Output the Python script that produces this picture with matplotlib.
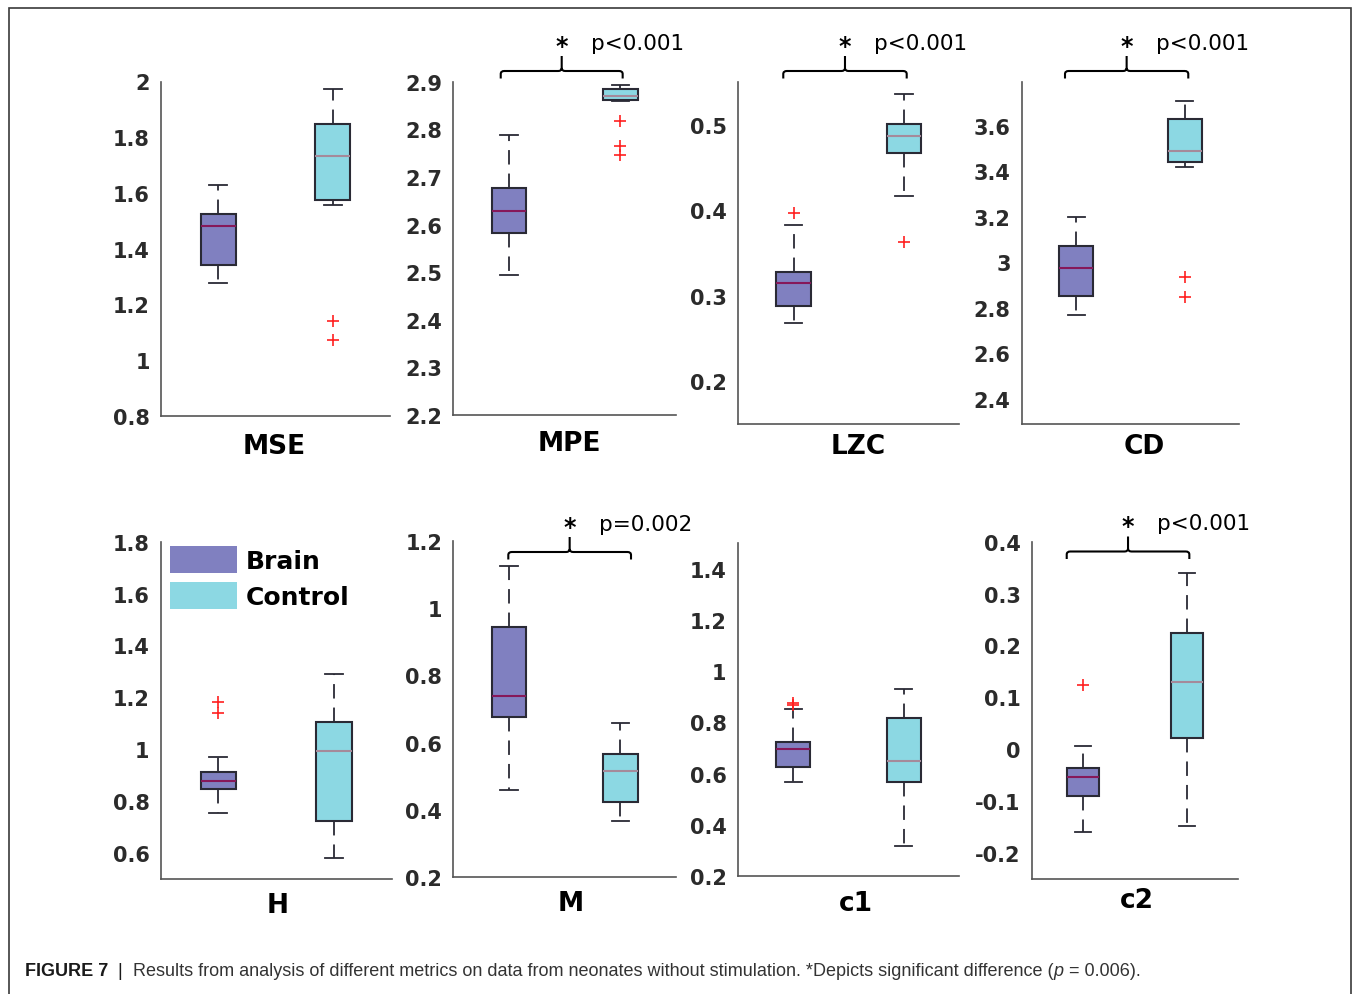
import matplotlib
matplotlib.use("Agg")
import matplotlib.pyplot as plt
from matplotlib.patches import Patch, Rectangle, PathPatch
from matplotlib.path import Path
from matplotlib.transforms import blended_transform_factory, offset_copy

# ---------------- data ----------------
metrics = ["MSE", "MPE", "LZC", "CD", "H", "M", "c1", "c2"]

brain_whislo = [1.276, 2.493, 0.268, 2.769, 0.755, 0.459, 0.568, -0.160]
brain_q1     = [1.341, 2.582, 0.2885, 2.852, 0.847, 0.677, 0.626, -0.090]
brain_med    = [1.482, 2.628, 0.3146, 2.975, 0.879, 0.739, 0.697, -0.054]
brain_q3     = [1.526, 2.677, 0.3275, 3.072, 0.911, 0.944, 0.725, -0.0365]
brain_whishi = [1.627, 2.789, 0.383, 3.200, 0.971, 1.127, 0.853, 0.0065]
brain_fliers = [[], [], [0.397], [], [1.184, 1.139], [], [0.874, 0.869], [0.123]]

control_whislo = [1.556, 2.859, 0.417, 3.416, 0.582, 0.365, 0.320, -0.147]
control_q1     = [1.576, 2.862, 0.467, 3.439, 0.723, 0.422, 0.568, 0.021]
control_med    = [1.732, 2.871, 0.487, 3.487, 0.994, 0.514, 0.650, 0.130]
control_q3     = [1.846, 2.885, 0.5007, 3.629, 1.106, 0.566, 0.816, 0.224]
control_whishi = [1.972, 2.894, 0.536, 3.710, 1.292, 0.658, 0.930, 0.339]
control_fliers = [[1.142, 1.072], [2.817, 2.766, 2.747], [0.363], [2.937, 2.847],
                  [], [], [], []]

y_limits = [(0.8, 2.0), (2.2, 2.9), (0.15, 0.55), (2.29, 3.79),
            (0.5, 1.8), (0.2, 1.2), (0.2, 1.5), (-0.25, 0.4)]
y_ticks = [[0.8, 1, 1.2, 1.4, 1.6, 1.8, 2],
           [2.2, 2.3, 2.4, 2.5, 2.6, 2.7, 2.8, 2.9],
           [0.2, 0.3, 0.4, 0.5],
           [2.4, 2.6, 2.8, 3, 3.2, 3.4, 3.6],
           [0.6, 0.8, 1, 1.2, 1.4, 1.6, 1.8],
           [0.2, 0.4, 0.6, 0.8, 1, 1.2],
           [0.2, 0.4, 0.6, 0.8, 1, 1.2, 1.4],
           [-0.2, -0.1, 0, 0.1, 0.2, 0.3, 0.4]]

p_labels = [None, "p<0.001", "p<0.001", "p<0.001", None, "p=0.002", None, "p<0.001"]
group_names = ["Brain", "Control"]

# ---------------- style ----------------
W, H = 1354, 995
DPI = 100
brain_fill = "#8080C0"
control_fill = "#8CD8E3"
brain_median = "#86185A"
control_median = "#A58A9A"
edge = "#2A2A35"
tick_color = "#2B2B2B"
spine_color = "#555555"

# axes rectangles in pixels: left, top, right, bottom
ax_px = [(161, 82.5, 390, 417), (453.3, 82.7, 676, 416),
         (738.3, 83.3, 959.3, 425), (1021.7, 83.3, 1239.3, 425),
         (160.7, 542.7, 391.7, 880), (453.3, 542.3, 676, 877.7),
         (737.7, 544, 959.3, 877.3), (1031.7, 542.7, 1238.3, 880)]
title_x_px = [274, 569, 858, 1144.5, 278, 571, 856, 1136.5]
title_y_px = [447, 444, 447, 447, 906, 904, 904, 901]
brace_x = [None, (0.926, 2.021), (0.907, 2.024), (0.898, 2.031),
           None, (0.994, 2.096), None, (0.839, 2.026)]
brace_y_px = [None, 72, 72, 72, None, 553, None, 552.5]

fig = plt.figure(figsize=(W / DPI, H / DPI), dpi=DPI)
fig.patch.set_facecolor("white")

# figure frame (open at the bottom edge of the image)
fig.add_artist(Rectangle((9 / W, -0.02), (1351 - 9) / W, 1.02 - 9 / H,
                         transform=fig.transFigure, fill=False,
                         edgecolor="#3A3A3A", linewidth=1.2))

def fmt(v):
    return "%g" % v

for i, name in enumerate(metrics):
    l, t, r, b = ax_px[i]
    ax = fig.add_axes([l / W, 1 - b / H, (r - l) / W, (b - t) / H])
    stats = [
        dict(med=brain_med[i], q1=brain_q1[i], q3=brain_q3[i],
             whislo=brain_whislo[i], whishi=brain_whishi[i],
             fliers=brain_fliers[i], label=group_names[0]),
        dict(med=control_med[i], q1=control_q1[i], q3=control_q3[i],
             whislo=control_whislo[i], whishi=control_whishi[i],
             fliers=control_fliers[i], label=group_names[1]),
    ]
    bp = ax.bxp(stats, positions=[1, 2], widths=0.31, capwidths=0.155,
                patch_artist=True, showfliers=True,
                boxprops=dict(edgecolor=edge, linewidth=1.5),
                whiskerprops=dict(color=edge, linewidth=1.3,
                                  linestyle=(0, (8, 5))),
                capprops=dict(color=edge, linewidth=1.3),
                medianprops=dict(linewidth=1.5),
                flierprops=dict(marker="+", markeredgecolor="#FF2020",
                                markersize=8.5, markeredgewidth=1.2,
                                linestyle="none"))
    bp["boxes"][0].set_facecolor(brain_fill)
    bp["boxes"][1].set_facecolor(control_fill)
    bp["medians"][0].set_color(brain_median)
    bp["medians"][1].set_color(control_median)

    ax.set_xlim(0.5, 2.5)
    ax.set_ylim(*y_limits[i])
    ax.set_yticks(y_ticks[i])
    ax.set_yticklabels([fmt(v) for v in y_ticks[i]], fontsize=15,
                       fontweight="bold", color=tick_color)
    ax.set_xticks([])
    ax.tick_params(axis="y", length=0, pad=8)
    for s in ["top", "right"]:
        ax.spines[s].set_visible(False)
    for s in ["left", "bottom"]:
        ax.spines[s].set_color(spine_color)
        ax.spines[s].set_linewidth(1.2)
    ax.set_facecolor("white")

    # panel name below the axes
    fig.text(title_x_px[i] / W, 1 - title_y_px[i] / H, name,
             ha="center", va="center", fontsize=19, fontweight="bold",
             color="black")

    # significance brace
    if brace_x[i] is not None:
        x1, x2 = brace_x[i]
        tr = blended_transform_factory(ax.transData, fig.transFigure)
        yb = 1 - brace_y_px[i] / H
        leg = 7.5 / H
        up = 15 / H
        rr = 3.0 / H
        dx = (x2 - x1) * 3.5 / 122
        xc = (x1 + x2) / 2
        verts = [(x1, yb - leg), (x1, yb - rr), (x1, yb), (x1 + dx, yb),
                 (xc - dx, yb), (xc, yb), (xc, yb + rr), (xc, yb + up),
                 (xc, yb + rr), (xc, yb), (xc + dx, yb),
                 (x2 - dx, yb), (x2, yb), (x2, yb - rr), (x2, yb - leg)]
        codes = [Path.MOVETO, Path.LINETO, Path.CURVE3, Path.CURVE3,
                 Path.LINETO, Path.CURVE3, Path.CURVE3, Path.LINETO,
                 Path.MOVETO, Path.CURVE3, Path.CURVE3,
                 Path.LINETO, Path.CURVE3, Path.CURVE3, Path.LINETO]
        pp = PathPatch(Path(verts, codes), transform=tr, fill=False,
                       edgecolor="black", linewidth=1.5, clip_on=False,
                       capstyle="butt")
        ax.add_artist(pp)
        ty = yb + 28 / H
        ax.text(xc, ty - 3 / H, "*", transform=tr, ha="center", va="center",
                fontsize=17, fontweight="bold", color="black", clip_on=False)
        tr_p = offset_copy(tr, fig=fig, x=29, y=0, units="dots")
        ax.text(xc, ty, p_labels[i], transform=tr_p, ha="left", va="center",
                fontsize=15.5, color="black", clip_on=False)

    if name == "H":
        handles = [Patch(facecolor=brain_fill, edgecolor="none"),
                   Patch(facecolor=control_fill, edgecolor="none")]
        ax.legend(handles, group_names, loc="upper left",
                  bbox_to_anchor=(9 / (r - l), 1 - 4 / (b - t)),
                  frameon=False, borderpad=0, borderaxespad=0,
                  handlelength=2.7, handleheight=1.3,
                  handletextpad=0.35, labelspacing=0.35,
                  prop=dict(size=18, weight="bold"))

# caption
fig.canvas.draw()
renderer = fig.canvas.get_renderer()
cap_y = 1 - 972 / H
pieces = [("FIGURE 7", dict(fontweight="bold", color="#1A1A1A")),
          ("  |  ", dict(color="#1A1A1A")),
          ("Results from analysis of different metrics on data from neonates "
           "without stimulation. *Depicts significant difference (",
           dict(color="#333333")),
          ("p", dict(style="italic", color="#333333")),
          (" = 0.006).", dict(color="#333333"))]
x_px = 25
for txt, kw in pieces:
    tt = fig.text(x_px / W, cap_y, txt, ha="left", va="center",
                  fontsize=13.0, family="Liberation Sans", **kw)
    bb = tt.get_window_extent(renderer)
    x_px = bb.x1

fig.savefig("out.png", dpi=DPI, facecolor="white")
